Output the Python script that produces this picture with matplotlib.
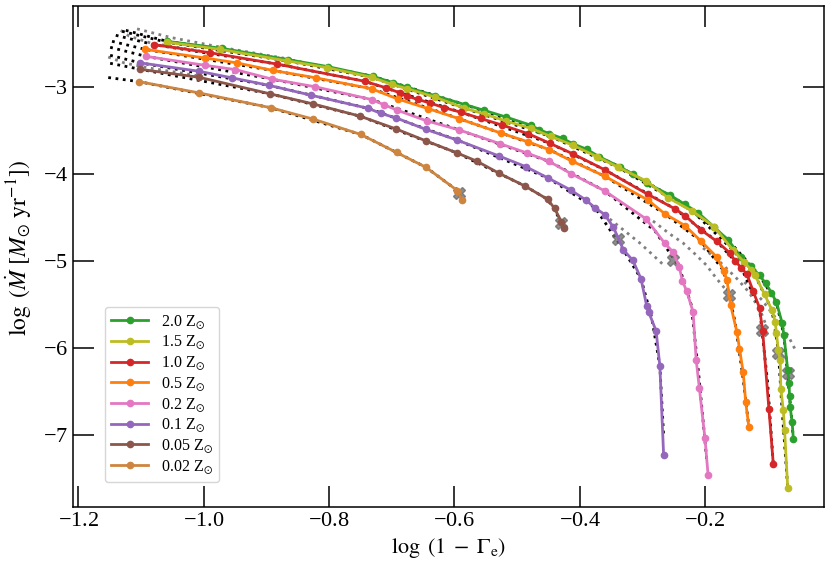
import numpy as np
import matplotlib
matplotlib.use("Agg")
import matplotlib.pyplot as plt

plt.rcParams['font.family'] = 'serif'
plt.rcParams['font.serif'] = ['Liberation Serif', 'DejaVu Serif']
plt.rcParams['mathtext.fontset'] = 'stix'
plt.rcParams['axes.formatter.use_mathtext'] = True

# metallicity labels and colours (legend order)
labels = ['2.0', '1.5', '1.0', '0.5', '0.2', '0.1', '0.05', '0.02']
colors = ['#2ca02c', '#bcbd22', '#d62728', '#ff7f0e', '#e377c2', '#9467bd', '#8c564b', '#cd853f']

# model tracks: log(1-Gamma_e) vs log Mdot
x_20 = [-1.058, -0.971, -0.865, -0.802, -0.730, -0.697, -0.676, -0.630, -0.583, -0.553, -0.518, -0.478,
        -0.465, -0.449, -0.427, -0.411, -0.389, -0.369, -0.336, -0.315, -0.292, -0.256, -0.232, -0.211,
        -0.186, -0.163, -0.142, -0.127, -0.113, -0.103, -0.094, -0.086, -0.077, -0.074, -0.068, -0.066,
        -0.065, -0.064, -0.061, -0.059]
y_20 = [-2.472, -2.552, -2.682, -2.762, -2.874, -2.948, -2.997, -3.098, -3.199, -3.264, -3.341, -3.436,
        -3.486, -3.532, -3.589, -3.649, -3.712, -3.798, -3.915, -3.999, -4.106, -4.240, -4.347, -4.443,
        -4.604, -4.757, -4.955, -5.055, -5.164, -5.256, -5.363, -5.474, -5.707, -5.855, -6.253, -6.396,
        -6.556, -6.680, -6.851, -7.041]

x_15 = [-1.059, -0.974, -0.867, -0.803, -0.732, -0.700, -0.676, -0.630, -0.584, -0.553, -0.517, -0.478,
        -0.446, -0.411, -0.372, -0.338, -0.294, -0.259, -0.220, -0.185, -0.156, -0.138, -0.126, -0.120,
        -0.105, -0.093, -0.088, -0.086, -0.083, -0.080, -0.079, -0.075, -0.073, -0.068]
y_15 = [-2.481, -2.564, -2.696, -2.774, -2.885, -2.966, -3.015, -3.115, -3.241, -3.304, -3.390, -3.471,
        -3.566, -3.666, -3.800, -3.922, -4.077, -4.270, -4.425, -4.606, -4.869, -5.008, -5.101, -5.163,
        -5.380, -5.566, -5.698, -5.824, -6.026, -6.135, -6.466, -6.715, -6.945, -7.605]

x_10 = [-1.079, -0.990, -0.882, -0.743, -0.709, -0.687, -0.676, -0.658, -0.639, -0.616, -0.590, -0.558,
        -0.524, -0.482, -0.448, -0.411, -0.360, -0.291, -0.248, -0.232, -0.207, -0.181, -0.160, -0.152,
        -0.142, -0.133, -0.123, -0.113, -0.108, -0.098, -0.091]
y_10 = [-2.510, -2.602, -2.734, -2.931, -3.006, -3.063, -3.100, -3.140, -3.180, -3.235, -3.286, -3.359,
        -3.434, -3.534, -3.643, -3.765, -3.949, -4.232, -4.398, -4.475, -4.637, -4.773, -4.908, -4.997,
        -5.078, -5.152, -5.348, -5.537, -5.801, -6.699, -7.333]

x_05 = [-1.093, -0.997, -0.947, -0.889, -0.821, -0.732, -0.690, -0.642, -0.592, -0.526, -0.483, -0.449,
        -0.412, -0.360, -0.291, -0.264, -0.232, -0.207, -0.181, -0.170, -0.165, -0.159, -0.149, -0.145,
        -0.139, -0.135, -0.130]
y_05 = [-2.564, -2.664, -2.719, -2.807, -2.891, -3.017, -3.135, -3.245, -3.362, -3.526, -3.626, -3.716,
        -3.850, -4.023, -4.297, -4.456, -4.591, -4.765, -4.954, -5.113, -5.216, -5.509, -5.816, -6.005,
        -6.279, -6.621, -6.906]

x_02 = [-1.092, -0.998, -0.949, -0.891, -0.822, -0.732, -0.712, -0.691, -0.644, -0.593, -0.527, -0.484,
        -0.449, -0.414, -0.360, -0.294, -0.264, -0.251, -0.241, -0.236, -0.229, -0.219, -0.214, -0.209,
        -0.200, -0.195]
y_02 = [-2.644, -2.747, -2.797, -2.906, -2.994, -3.141, -3.201, -3.264, -3.386, -3.489, -3.649, -3.756,
        -3.852, -3.992, -4.192, -4.514, -4.796, -4.894, -5.067, -5.227, -5.348, -5.583, -6.136, -6.458,
        -7.038, -7.462]

x_01 = [-1.101, -1.007, -0.955, -0.896, -0.828, -0.737, -0.717, -0.693, -0.645, -0.595, -0.528, -0.486,
        -0.450, -0.414, -0.390, -0.375, -0.360, -0.346, -0.330, -0.315, -0.302, -0.293, -0.290, -0.278,
        -0.272, -0.266]
y_01 = [-2.719, -2.816, -2.891, -2.977, -3.092, -3.243, -3.301, -3.352, -3.485, -3.608, -3.792, -3.913,
        -4.045, -4.183, -4.297, -4.389, -4.464, -4.611, -4.871, -4.992, -5.204, -5.514, -5.583, -5.801,
        -6.203, -7.225]

x_005 = [-1.101, -1.007, -0.894, -0.826, -0.750, -0.693, -0.645, -0.596, -0.564, -0.528, -0.487, -0.451,
         -0.440, -0.429, -0.425]
y_005 = [-2.793, -2.885, -3.075, -3.190, -3.333, -3.479, -3.617, -3.754, -3.850, -3.991, -4.137, -4.289,
         -4.393, -4.547, -4.622]

x_002 = [-1.103, -1.007, -0.893, -0.826, -0.749, -0.692, -0.645, -0.595, -0.588]
y_002 = [-2.935, -3.065, -3.235, -3.364, -3.543, -3.750, -3.921, -4.188, -4.297]

# black dotted fits (sparse read-offs, start further left)
fx_20 = [-1.124, -1.058, -0.865, -0.730, -0.583, -0.449, -0.336, -0.232, -0.163, -0.113, -0.086, -0.074, -0.065, -0.059]
fy_20 = [-2.345, -2.472, -2.682, -2.874, -3.199, -3.532, -3.915, -4.347, -4.757, -5.164, -5.474, -5.855, -6.556, -7.041]
fx_15 = [-1.130, -1.059, -0.867, -0.732, -0.584, -0.446, -0.338, -0.220, -0.156, -0.120, -0.093, -0.083, -0.078, -0.068]
fy_15 = [-2.356, -2.481, -2.696, -2.885, -3.241, -3.566, -3.922, -4.425, -4.869, -5.163, -5.566, -6.026, -6.600, -7.605]
fx_10 = [-1.140, -1.079, -0.882, -0.743, -0.590, -0.448, -0.360, -0.248, -0.181, -0.142, -0.113, -0.100, -0.091]
fy_10 = [-2.402, -2.510, -2.734, -2.931, -3.286, -3.643, -3.949, -4.398, -4.773, -5.078, -5.537, -6.400, -7.333]
fx_05 = [-1.146, -1.093, -0.889, -0.732, -0.592, -0.449, -0.360, -0.264, -0.207, -0.170, -0.152, -0.140, -0.130]
fy_05 = [-2.471, -2.564, -2.807, -3.017, -3.362, -3.716, -4.023, -4.456, -4.765, -5.113, -5.700, -6.300, -6.906]
fx_02 = [-1.149, -1.092, -0.891, -0.732, -0.593, -0.449, -0.360, -0.280, -0.241, -0.222, -0.210, -0.197]
fy_02 = [-2.540, -2.644, -2.906, -3.141, -3.489, -3.852, -4.192, -4.650, -5.067, -5.500, -6.300, -7.300]
fx_01 = [-1.149, -1.101, -0.896, -0.737, -0.595, -0.450, -0.375, -0.330, -0.302, -0.285, -0.272, -0.266]
fy_01 = [-2.632, -2.719, -2.977, -3.243, -3.608, -4.045, -4.389, -4.871, -5.204, -5.650, -6.203, -7.000]
fx_005 = [-1.149, -1.101, -0.894, -0.750, -0.596, -0.487, -0.451, -0.429]
fy_005 = [-2.724, -2.793, -3.075, -3.333, -3.754, -4.137, -4.289, -4.547]
fx_002 = [-1.152, -1.103, -0.893, -0.749, -0.645, -0.595, -0.588]
fy_002 = [-2.888, -2.935, -3.235, -3.543, -3.921, -4.188, -4.297]

# grey dotted fits
gx_left1 = [-1.106, -1.053, -0.971, -0.865]
gy_left1 = [-2.328, -2.426, -2.541, -2.674]
gx_left2 = [-1.132, -1.119, -1.085, -1.006]
gy_left2 = [-2.345, -2.410, -2.490, -2.582]
gx_left3 = [-1.152, -1.126, -1.086, -1.006]
gy_left3 = [-2.652, -2.721, -2.779, -2.871]
gx_r1 = [-0.352, -0.328, -0.304, -0.285, -0.266]
gy_r1 = [-4.515, -4.653, -4.791, -4.917, -5.044]
gx_r2 = [-0.283, -0.256, -0.235, -0.216, -0.198, -0.181, -0.165]
gy_r2 = [-4.538, -4.688, -4.791, -4.917, -5.044, -5.205, -5.343]
gx_r3 = [-0.203, -0.176, -0.150, -0.130, -0.112, -0.102]
gy_r3 = [-4.848, -5.010, -5.194, -5.355, -5.562, -5.746]
gx_r4 = [-0.137, -0.109, -0.087, -0.068, -0.054]
gy_r4 = [-5.240, -5.447, -5.654, -5.850, -6.045]

# kink positions (grey crosses)
kink_x = [-0.068, -0.084, -0.109, -0.162, -0.251, -0.338, -0.430, -0.593]
kink_y = [-6.290, -6.054, -5.790, -5.388, -4.986, -4.745, -4.560, -4.220]

tracks = [(x_20, y_20), (x_15, y_15), (x_10, y_10), (x_05, y_05),
          (x_02, y_02), (x_01, y_01), (x_005, y_005), (x_002, y_002)]
fits = [(fx_20, fy_20), (fx_15, fy_15), (fx_10, fy_10), (fx_05, fy_05),
        (fx_02, fy_02), (fx_01, fy_01), (fx_005, fy_005), (fx_002, fy_002)]
grey_fits = [(gx_left1, gy_left1), (gx_left2, gy_left2), (gx_left3, gy_left3),
             (gx_r1, gy_r1), (gx_r2, gy_r2), (gx_r3, gy_r3), (gx_r4, gy_r4)]

fig = plt.figure(figsize=(8.31, 5.71), dpi=100)
ax = fig.add_axes([0.0878, 0.1121, 0.9037, 0.8774])

for gx, gy in grey_fits:
    ax.plot(gx, gy, ls=':', color='grey', lw=2, zorder=1)
for fx, fy in fits:
    ax.plot(fx, fy, ls=':', color='black', lw=2, zorder=2)
ax.plot(kink_x, kink_y, ls='none', marker='X', ms=9, color='dimgrey', alpha=0.75, zorder=3)

for (tx, ty), lab, c in zip(tracks, labels, colors):
    ax.plot(tx, ty, '-o', color=c, lw=2, ms=4.5, label=lab + r' Z$_{\odot}$', zorder=4)

ax.set_xlim(-1.2083, -0.0102)
ax.set_ylim(-7.828, -2.065)
ax.set_xticks([-1.2, -1.0, -0.8, -0.6, -0.4, -0.2])
ax.set_yticks([-7, -6, -5, -4, -3])
ax.tick_params(direction='in', length=15, width=1.1, top=True, right=True, labelsize=16)
for s in ax.spines.values():
    s.set_linewidth(1.1)

ax.set_xlabel(r'$\log\ (1\;-\;\Gamma_{\mathrm{e}})$', fontsize=16)
ax.set_ylabel(r'$\log\ (\dot{M}\ [M_{\odot}\ \mathrm{yr}^{-1}])$', fontsize=17)
ax.yaxis.set_label_coords(-0.052, 0.518)

ax.legend(loc='lower left', bbox_to_anchor=(0.0426, 0.05), borderaxespad=0,
          fontsize=11.5, handlelength=2.3, labelspacing=0.2)

fig.savefig('out.png', dpi=100)
